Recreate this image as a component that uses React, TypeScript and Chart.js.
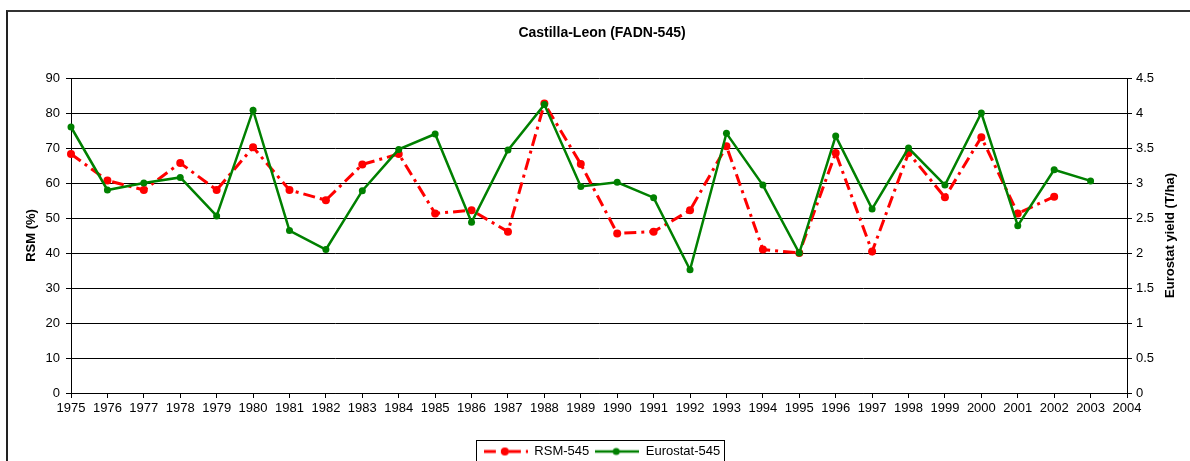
import React, { useEffect, useRef } from "react";
import { Chart, registerables } from "chart.js";

Chart.register(...registerables);

const chartTitle = "Castilla-Leon (FADN-545)";
const leftAxisTitle = "RSM (%)";
const rightAxisTitle = "Eurostat yield (T/ha)";

const years = [
  "1975", "1976", "1977", "1978", "1979", "1980", "1981", "1982", "1983", "1984",
  "1985", "1986", "1987", "1988", "1989", "1990", "1991", "1992", "1993", "1994",
  "1995", "1996", "1997", "1998", "1999", "2000", "2001", "2002", "2003", "2004",
];

const rsmLabel = "RSM-545";
const rsm545: (number | null)[] = [
  68.3, 60.7, 58.0, 65.7, 58.0, 70.2, 58.0, 55.1, 65.3, 68.3,
  51.3, 52.2, 46.1, 82.7, 65.4, 45.6, 46.1, 52.2, 70.5, 41.0,
  40.0, 68.6, 40.4, 68.6, 55.9, 73.1, 51.3, 56.1, null, null,
];

const eurostatLabel = "Eurostat-545";
const eurostat545: (number | null)[] = [
  3.8, 2.9, 3.0, 3.08, 2.53, 4.04, 2.32, 2.05, 2.89, 3.48,
  3.7, 2.44, 3.47, 4.12, 2.95, 3.01, 2.79, 1.76, 3.71, 2.97,
  2.0, 3.67, 2.63, 3.5, 2.97, 4.0, 2.39, 3.19, 3.03, null,
];

const leftMin = 0;
const leftMax = 90;
const leftStep = 10;
const rightMin = 0;
const rightMax = 4.5;
const rightStep = 0.5;

const FONT = "Arial, 'Liberation Sans', sans-serif";
const RED = "#FF0000";
const GREEN = "#008000";
const RED_DASH = [12, 5, 3, 5];

function makeSample(color: string, dash: number[], lw: number, r: number) {
  const c = document.createElement("canvas");
  c.width = 44;
  c.height = 12;
  const ctx = c.getContext("2d")!;
  ctx.strokeStyle = color;
  ctx.lineWidth = lw;
  ctx.setLineDash(dash);
  ctx.beginPath();
  ctx.moveTo(0, 6);
  ctx.lineTo(44, 6);
  ctx.stroke();
  ctx.setLineDash([]);
  ctx.fillStyle = color;
  ctx.beginPath();
  ctx.arc(21, 6, r, 0, Math.PI * 2);
  ctx.fill();
  return c;
}

export default function App() {
  const ref = useRef<HTMLCanvasElement | null>(null);

  useEffect(() => {
    if (!ref.current) return;
    const samples = [
      makeSample(RED, RED_DASH, 3, 4),
      makeSample(GREEN, [], 2.5, 3.5),
    ];

    const extras = {
      id: "extras",
      afterDraw(chart: any) {
        const ctx = chart.ctx;
        const area = chart.chartArea;
        // right axis title (reads bottom to top)
        ctx.save();
        ctx.translate(1170, (area.top + area.bottom) / 2);
        ctx.rotate(-Math.PI / 2);
        ctx.font = `bold 13px ${FONT}`;
        ctx.fillStyle = "#000";
        ctx.textAlign = "center";
        ctx.textBaseline = "middle";
        ctx.fillText(rightAxisTitle, 0, 0);
        ctx.restore();
        // legend border
        const lg = chart.legend;
        if (lg && lg.legendHitBoxes && lg.legendHitBoxes.length) {
          const hb = lg.legendHitBoxes;
          const left = Math.min(...hb.map((h: any) => h.left)) - 8;
          const right = Math.max(...hb.map((h: any) => h.left + h.width)) + 4;
          const top = hb[0].top - 5.5;
          ctx.save();
          ctx.strokeStyle = "#000";
          ctx.lineWidth = 1;
          ctx.strokeRect(Math.round(left) + 0.5, Math.round(top) + 0.5, Math.round(right - left), 40);
          ctx.restore();
        }
      },
    };

    const tickFont = { family: FONT, size: 13 };

    const chart = new Chart(ref.current, {
      type: "line",
      data: {
        labels: years,
        datasets: [
          {
            label: rsmLabel,
            data: rsm545,
            yAxisID: "y",
            borderColor: RED,
            backgroundColor: RED,
            borderWidth: 3,
            borderDash: RED_DASH,
            pointRadius: 4,
            pointBorderWidth: 0,
            pointBackgroundColor: RED,
            spanGaps: false,
            tension: 0,
            order: 2,
          },
          {
            label: eurostatLabel,
            data: eurostat545,
            yAxisID: "y1",
            borderColor: GREEN,
            backgroundColor: GREEN,
            borderWidth: 2.5,
            pointRadius: 3.5,
            pointBorderWidth: 0,
            pointBackgroundColor: GREEN,
            spanGaps: false,
            tension: 0,
            order: 1,
          },
        ],
      },
      options: {
        responsive: false,
        animation: false,
        devicePixelRatio: 1,
        layout: { padding: 0 },
        plugins: {
          tooltip: { enabled: false },
          title: {
            display: true,
            text: chartTitle,
            color: "#000",
            font: { family: FONT, size: 14, weight: "bold" },
            padding: { top: 24.6, bottom: 36.6 },
          },
          legend: {
            display: true,
            position: "bottom",
            labels: {
              usePointStyle: true,
              pointStyleWidth: 44,
              boxHeight: 12,
              padding: 6,
              color: "#000",
              font: { family: FONT, size: 13 },
              generateLabels: (c: any) =>
                c.data.datasets.map((ds: any, i: number) => ({
                  text: ds.label,
                  pointStyle: samples[i],
                  datasetIndex: i,
                  fillStyle: ds.borderColor,
                  strokeStyle: ds.borderColor,
                  lineWidth: 0,
                  hidden: false,
                  fontColor: "#000",
                })),
            },
          },
        },
        scales: {
          x: {
            type: "category",
            offset: false,
            grid: {
              display: true,
              drawOnChartArea: false,
              drawTicks: true,
              tickLength: 5,
              color: "#000",
              offset: false,
            },
            border: { display: true, color: "#000", width: 1 },
            ticks: {
              font: tickFont,
              color: "#000",
              padding: 3,
              maxRotation: 0,
              minRotation: 0,
              autoSkip: false,
            },
            afterFit: (s: any) => {
              s.height = 46;
            },
          },
          y: {
            type: "linear",
            position: "left",
            min: leftMin,
            max: leftMax,
            ticks: { stepSize: leftStep, font: tickFont, color: "#000", padding: 6 },
            grid: { color: "#000", lineWidth: 1, drawTicks: true, tickLength: 5 },
            border: { display: true, color: "#000", width: 1 },
            title: {
              display: true,
              text: leftAxisTitle,
              color: "#000",
              font: { family: FONT, size: 13, weight: "bold" },
              padding: { top: 24, bottom: 0 },
            },
            afterFit: (s: any) => {
              s.width = 71;
            },
          },
          y1: {
            type: "linear",
            position: "right",
            min: rightMin,
            max: rightMax,
            ticks: {
              stepSize: rightStep,
              font: tickFont,
              color: "#000",
              padding: 4,
              callback: (v: any) => `${Number(v)}`,
            },
            grid: { drawOnChartArea: false, color: "#000", drawTicks: true, tickLength: 5 },
            border: { display: true, color: "#000", width: 1 },
            afterFit: (s: any) => {
              s.width = 77;
            },
          },
        },
      } as any,
      plugins: [extras],
    });

    return () => chart.destroy();
  }, []);

  return (
    <div
      style={{
        position: "fixed",
        left: 0,
        top: 0,
        width: 1190,
        height: 461,
        overflow: "hidden",
        background: "#fff",
      }}
    >
      <div
        style={{
          position: "absolute",
          left: 6,
          top: 10,
          width: 2000,
          height: 1000,
          borderTop: "2px solid #333",
          borderLeft: "2px solid #222",
        }}
      />
      <canvas
        ref={ref}
        width={1204}
        height={468}
        style={{ position: "absolute", left: 0, top: 0, width: 1204, height: 468 }}
      />
    </div>
  );
}
